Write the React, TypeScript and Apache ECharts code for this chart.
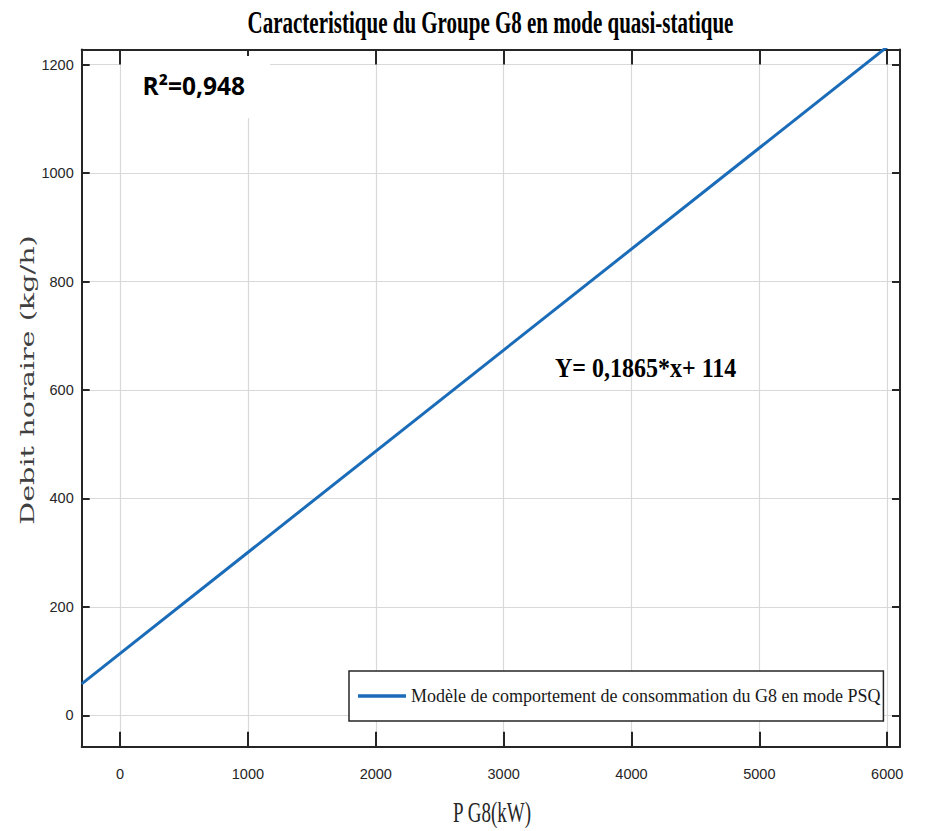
import React, { useEffect, useRef } from "react";
import * as echarts from "echarts";

// ---- data ----
const xValues = [-300, 6000];
const yValues = [58, 1233];
const xTicks = [0, 1000, 2000, 3000, 4000, 5000, 6000];
const yTicks = [0, 200, 400, 600, 800, 1000, 1200];
const xRange = [-300, 6100];
const yRange = [-58, 1228];
const titleText = "Caracteristique du Groupe G8 en mode quasi-statique";
const xName = "P G8(kW)";
const yName = "Debit horaire (kg/h)";
const seriesName = "Modèle de comportement de consommation du G8 en mode PSQ";
const r2Text = "R²=0,948";
const eqText = "Y= 0,1865*x+ 114";

const dark = "#262626";
const gridColor = "#d9d9d9";
const lineColor = "#1b6cb8";
const tickFont = "'Liberation Sans Narrow', 'Arial Narrow', 'Liberation Sans', sans-serif";
const serif = "'Liberation Serif', 'Times New Roman', serif";

function axisBase(min: number, max: number, ticks: number[], pos: string, tickLen: number, main: boolean, labelMargin: number) {
  return {
    type: "value",
    min,
    max,
    position: pos,
    axisLine: { show: true, onZero: false, lineStyle: { color: dark, width: 2 } },
    axisTick: {
      show: true,
      inside: true,
      length: tickLen,
      customValues: ticks,
      lineStyle: { color: dark, width: 2 },
    },
    axisLabel: main
      ? {
          show: true,
          customValues: ticks,
          margin: labelMargin,
          color: dark,
          fontSize: 14.5,
          fontFamily: tickFont,
          formatter: (v: number) => String(v),
        }
      : { show: false, customValues: ticks },
    splitLine: main ? { show: true, lineStyle: { color: gridColor, width: 1.2 } } : { show: false },
  };
}

export default function App() {
  const ref = useRef<HTMLDivElement>(null);
  useEffect(() => {
    if (!ref.current) return;
    const chart = echarts.init(ref.current, null, { renderer: "svg" });
    const option: any = {
      animation: false,
      backgroundColor: "#ffffff",
      grid: { left: 81.7, right: 25, top: 49.5, bottom: 84.3, containLabel: false, outerBoundsMode: "none" },
      xAxis: [
        axisBase(xRange[0], xRange[1], xTicks, "bottom", 15, true, 20),
        axisBase(xRange[0], xRange[1], xTicks, "top", 15, false, 0),
      ],
      yAxis: [
        axisBase(yRange[0], yRange[1], yTicks, "left", 8, true, 8),
        axisBase(yRange[0], yRange[1], yTicks, "right", 8, false, 0),
      ],
      legend: {
        show: true,
        data: [seriesName],
        left: 349,
        top: 671,
        orient: "horizontal",
        padding: [16, 3, 16, 9],
        icon: "rect",
        itemWidth: 48,
        itemHeight: 3.5,
        borderColor: dark,
        borderWidth: 1.5,
        borderRadius: 0,
        backgroundColor: "#ffffff",
        itemStyle: { color: lineColor },
        textStyle: { fontFamily: serif, fontSize: 18, color: "#1a1a1a" },
      },
      series: [
        {
          type: "line",
          name: seriesName,
          xAxisIndex: 0,
          yAxisIndex: 0,
          data: xValues.map((x, i) => [x, yValues[i]]),
          symbol: "none",
          showSymbol: false,
          clip: true,
          lineStyle: { color: lineColor, width: 3 },
          itemStyle: { color: lineColor },
          z: 3,
        },
      ],
      graphic: [
        {
          type: "rect",
          z: 1,
          silent: true,
          shape: { x: 121, y: 56, width: 149, height: 62 },
          style: { fill: "#ffffff" },
        },
        {
          type: "text",
          z: 100,
          x: 490.5,
          y: 22,
          scaleY: 1.55,
          style: {
            text: titleText,
            fontFamily: serif,
            fontWeight: "bold",
            fontSize: 21,
            fill: "#000000",
            align: "center",
            verticalAlign: "middle",
            textAlign: "center",
            textVerticalAlign: "middle",
          },
        },
        {
          type: "text",
          z: 100,
          x: 142.5,
          y: 85,
          style: {
            text: r2Text,
            fontFamily: "'Open Sans', sans-serif",
            fontWeight: "bold",
            fontSize: 24.5,
            fill: "#000000",
            align: "left",
            verticalAlign: "middle",
            textAlign: "left",
            textVerticalAlign: "middle",
          },
        },
        {
          type: "text",
          z: 100,
          x: 555,
          y: 367.8,
          scaleY: 1.1,
          style: {
            text: eqText,
            fontFamily: serif,
            fontWeight: "bold",
            fontSize: 24,
            fill: "#000000",
            align: "left",
            verticalAlign: "middle",
            textAlign: "left",
            textVerticalAlign: "middle",
          },
        },
        {
          type: "text",
          z: 100,
          x: 492,
          y: 812,
          scaleY: 1.5,
          style: {
            text: xName,
            fontFamily: serif,
            fontSize: 19,
            fill: dark,
            align: "center",
            verticalAlign: "middle",
            textAlign: "center",
            textVerticalAlign: "middle",
          },
        },
        {
          type: "text",
          z: 100,
          x: 27.6,
          y: 380,
          rotation: Math.PI / 2,
          scaleX: 1.55,
          style: {
            text: yName,
            fontFamily: "'DejaVu Serif', serif",
            fontSize: 18.5,
            fill: "#404040",
            align: "center",
            verticalAlign: "middle",
            textAlign: "center",
            textVerticalAlign: "middle",
          },
        },
      ],
    };
    chart.setOption(option);
    return () => chart.dispose();
  }, []);
  return (
    <div
      ref={ref}
      style={{ position: "absolute", left: 0, top: 0, width: 925, height: 831, background: "#fff" }}
    />
  );
}
